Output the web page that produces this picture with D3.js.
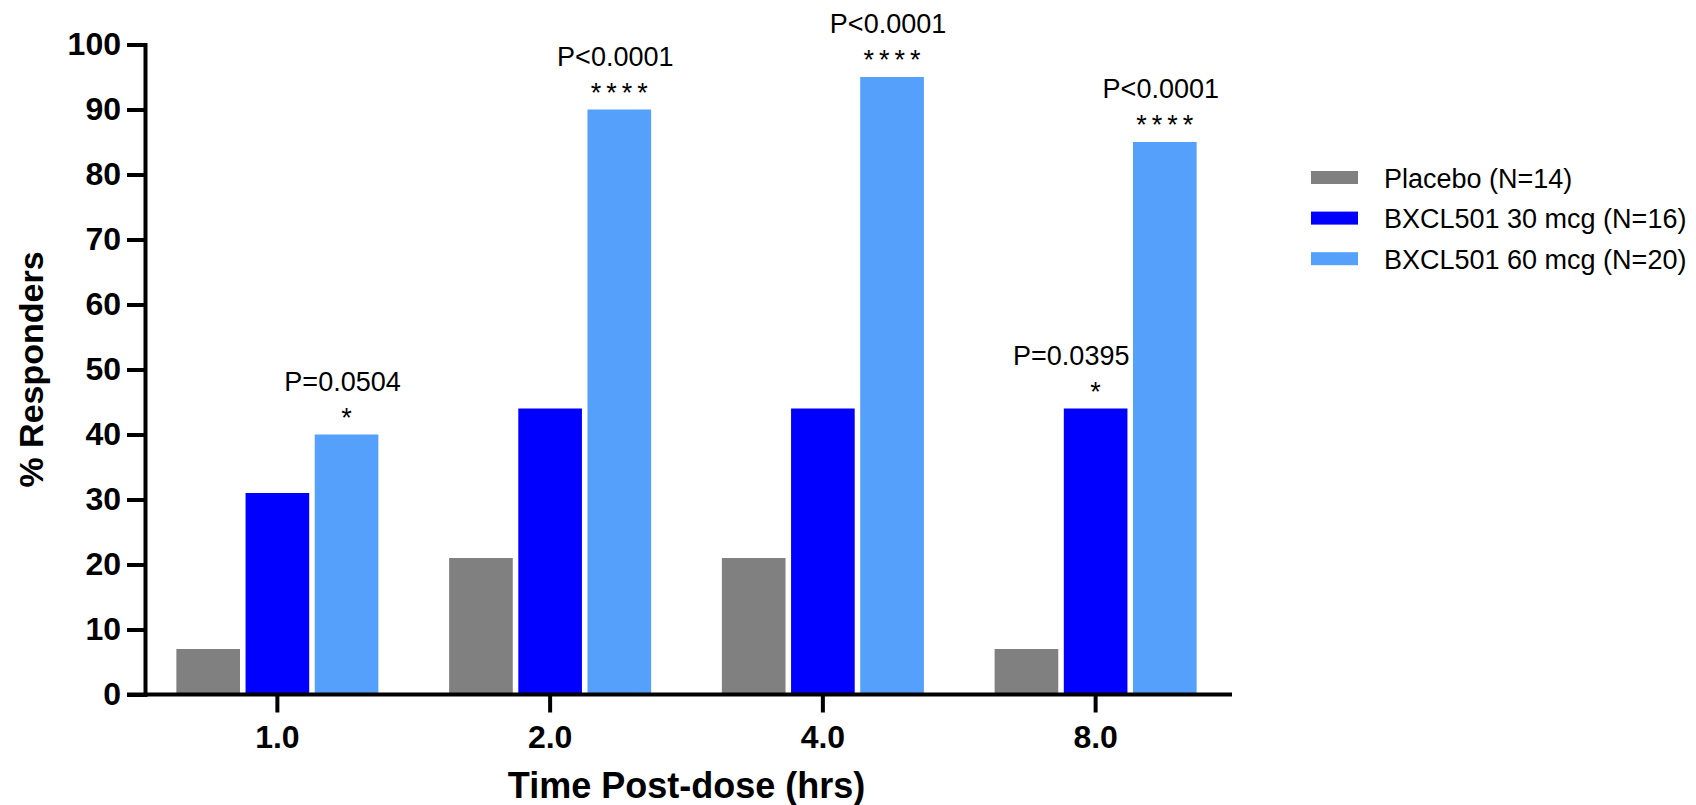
<!DOCTYPE html>
<html>
<head>
<meta charset="utf-8">
<script src="https://cdn.jsdelivr.net/npm/d3@7"></script>
<style>
  body { margin: 0; background: #fff; }
  svg { display: block; font-family: "Liberation Sans", Arial, sans-serif; }
</style>
</head>
<body>
<div class="chart"></div>
<script>
// categories and series
var categories = ['1.0', '2.0', '4.0', '8.0']
var seriesNames = ['Placebo (N=14)', 'BXCL501 30 mcg (N=16)', 'BXCL501 60 mcg (N=20)']
var seriesColors = ['#808080', '#0000ff', '#55a0fb']
var placebo = [7, 21, 21, 7]
var mcg30 = [31, 44, 44, 44]
var mcg60 = [40, 90, 95, 85]
var yTicks = [0, 10, 20, 30, 40, 50, 60, 70, 80, 90, 100]

// p-value annotations: category, series index, label, stars
var annCategory = ['1.0', '2.0', '4.0', '8.0', '8.0']
var annSeries = [2, 2, 2, 1, 2]
var annLabel = ['P=0.0504', 'P<0.0001', 'P<0.0001', 'P=0.0395', 'P<0.0001']
var annStars = ['*', '****', '****', '*', '****']

var values = [placebo, mcg30, mcg60]

var width = 1696
var height = 805

var svg = d3.select('.chart').append('svg')
  .attr('width', width)
  .attr('height', height)

// scales
var x0 = d3.scaleBand()
  .domain(categories)
  .range([141, 1232])
  .padding(0)

var x1 = d3.scaleBand()
  .domain(d3.range(seriesNames.length))
  .range([-101, 101])
  .paddingInner(0.08)

var y = d3.scaleLinear()
  .domain([0, 100])
  .range([694.5, 44.5])

var center = c => x0(c) + x0.bandwidth() / 2

// bars
var groups = svg.append('g').selectAll('g')
  .data(categories)
  .join('g')
  .attr('transform', c => 'translate(' + center(c) + ',0)')

groups.selectAll('rect')
  .data((c, i) => values.map((v, s) => ({ s: s, v: v[i] })))
  .join('rect')
  .attr('x', d => x1(d.s))
  .attr('width', x1.bandwidth())
  .attr('y', d => y(d.v))
  .attr('height', d => y(0) - y(d.v))
  .attr('fill', d => seriesColors[d.s])

// y axis
var yAxis = svg.append('g')
  .attr('transform', 'translate(145,0)')
  .call(d3.axisLeft(y).tickValues(yTicks).tickSize(18).tickSizeOuter(0).tickPadding(6))

yAxis.select('.domain')
  .attr('stroke-width', 4)
  .attr('stroke-linecap', 'square')
yAxis.selectAll('.tick line').attr('stroke-width', 4)
yAxis.selectAll('.tick text')
  .attr('font-size', 32)
  .attr('font-weight', 'bold')
  .attr('font-family', '"Liberation Sans", Arial, sans-serif')
  .attr('fill', '#000')

// x axis
var xAxis = svg.append('g')
  .attr('transform', 'translate(0,' + y(0) + ')')
  .call(d3.axisBottom(x0).tickSize(18).tickSizeOuter(0).tickPadding(13))

xAxis.select('.domain').remove()
xAxis.append('line')
  .attr('x1', 127)
  .attr('x2', 1232)
  .attr('stroke', '#000')
  .attr('stroke-width', 4)
xAxis.selectAll('.tick line').attr('stroke-width', 4)
xAxis.selectAll('.tick text')
  .attr('font-size', 32)
  .attr('font-weight', 'bold')
  .attr('font-family', '"Liberation Sans", Arial, sans-serif')
  .attr('fill', '#000')

// axis titles
svg.append('text')
  .attr('x', (141 + 1232) / 2)
  .attr('y', 798)
  .attr('text-anchor', 'middle')
  .attr('font-size', 36)
  .attr('font-weight', 'bold')
  .text('Time Post-dose (hrs)')

svg.append('text')
  .attr('transform', 'translate(43,' + (y(0) + y(100)) / 2 + ') rotate(-90)')
  .attr('text-anchor', 'middle')
  .attr('font-size', 34)
  .attr('font-weight', 'bold')
  .text('% Responders')

// annotations
annLabel.forEach((label, i) => {
  var s = annSeries[i]
  var v = values[s][categories.indexOf(annCategory[i])]
  var bx = center(annCategory[i]) + x1(s)
  var bc = bx + x1.bandwidth() / 2
  var top = y(v)
  var last = s === seriesNames.length - 1

  svg.append('text')
    .attr('x', last ? bc - 4 : bx + x1.bandwidth() + 2)
    .attr('y', top - 44)
    .attr('text-anchor', last ? 'middle' : 'end')
    .attr('font-size', 27)
    .attr('fill', '#000')
    .text(label)

  svg.append('text')
    .attr('x', bc + 2.5)
    .attr('y', top - 8)
    .attr('text-anchor', 'middle')
    .attr('font-size', 27)
    .attr('letter-spacing', 5)
    .attr('fill', '#000')
    .text(annStars[i])
})

// legend
var legend = svg.append('g').selectAll('g')
  .data(seriesNames)
  .join('g')
  .attr('transform', (d, i) => 'translate(1311,' + (177.5 + i * 40.6) + ')')

legend.append('rect')
  .attr('x', 0)
  .attr('y', -6.5)
  .attr('width', 47)
  .attr('height', 13)
  .attr('fill', (d, i) => seriesColors[i])

legend.append('text')
  .attr('x', 73)
  .attr('y', 10)
  .attr('font-size', 27)
  .attr('fill', '#000')
  .text(d => d)
</script>
</body>
</html>
